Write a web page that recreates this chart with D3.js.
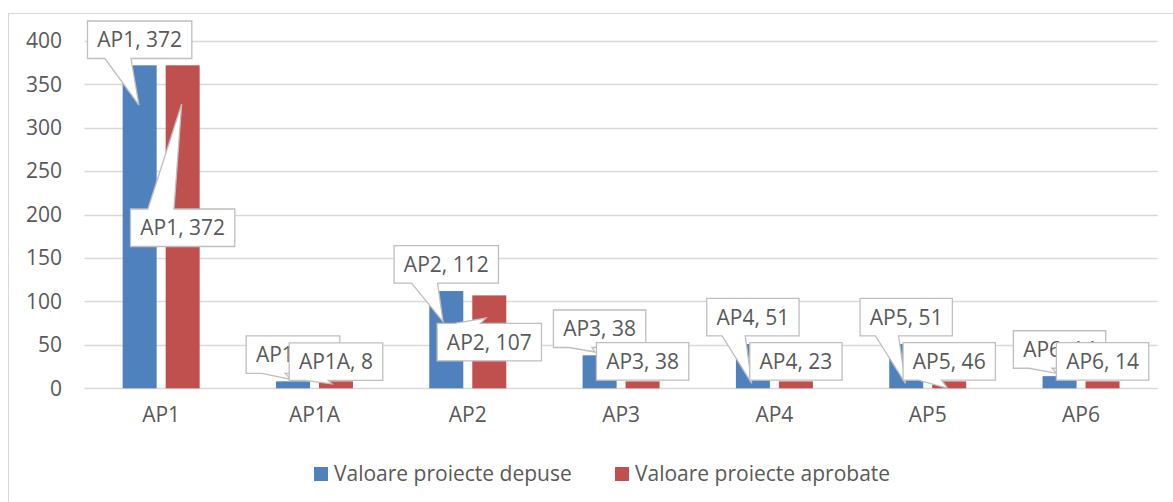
<!DOCTYPE html>
<html>
<head>
<meta charset="utf-8">
<script src="https://cdn.jsdelivr.net/npm/d3@7"></script>
<style>
  body { margin: 0; background: #fff; }
  text { font-family: "Open Sans", sans-serif; fill: #595959; }
</style>
</head>
<body>
<div id="chart"></div>
<script>
// chart data
var categories = ["AP1", "AP1A", "AP2", "AP3", "AP4", "AP5", "AP6"];
var seriesNames = ["Valoare proiecte depuse", "Valoare proiecte aprobate"];
var depuse = [372, 8, 112, 38, 51, 51, 14];
// values written in the red labels
var aprobate = [372, 8, 107, 38, 23, 46, 14];
// heights the red bars are actually drawn at in the picture
var aprobateBars = [372, 8, 107, 8, 8, 8, 8];
var yTicks = [0, 50, 100, 150, 200, 250, 300, 350, 400];

// label layout: [box top from bar top, tip dx from bar centre, tip dy from bar top]
var depuseLabelPos = [[-44.3, -0.7, 39.7], [-45.4, -2, -2], [-45.4, -3.3, 30.6], [-45.3, -4.6, -3.3],
  [-45.7, -1.2, 39.3], [-45.7, -0.8, 39.3], [-45.4, -2.8, -2.8]];
var aprobateLabelPos = [[143.7, -1, 38.7], [-38.4, -4, 2.6], [27.9, -3.3, 22.6], [-38.7, 0, -10],
  [-38.7, 0, -10], [-38.7, -1.5, 6.9], [-38.7, 0, -10]];

var colors = ["#4f81bd", "#c0504d"];

var svgWidth = 1173, svgHeight = 502;
var plot = { left: 84.5, right: 1157.7, top: 41, bottom: 388.3 };
var fontSize = "21px";

var svg = d3.select("#chart").append("svg")
  .attr("width", svgWidth)
  .attr("height", svgHeight);

// outer chart border (runs off the picture on right and bottom)
svg.append("rect")
  .attr("x", 8.5).attr("y", 13.5)
  .attr("width", 1200).attr("height", 520)
  .attr("fill", "none")
  .attr("stroke", "#d9d9d9");

var x = d3.scaleBand().domain(categories).range([plot.left, plot.right]).padding(0);
var bw = x.bandwidth();
var xSub = d3.scaleBand().domain([0, 1])
  .range([bw / 2 - 38.5, bw / 2 + 38.5])
  .paddingInner(9 / 43).paddingOuter(0);
var y = d3.scaleLinear().domain([0, 400]).range([plot.bottom, plot.top]);

// gridlines
svg.append("g").selectAll("line")
  .data(yTicks)
  .enter().append("line")
  .attr("x1", plot.left).attr("x2", plot.right)
  .attr("y1", d => Math.round(y(d)) + 0.5)
  .attr("y2", d => Math.round(y(d)) + 0.5)
  .attr("stroke", "#d9d9d9")
  .attr("stroke-width", 1.3);

// y axis labels
var yAxis = svg.append("g")
  .attr("transform", "translate(62,0)")
  .call(d3.axisLeft(y).tickValues(yTicks).tickSize(0).tickPadding(0));
yAxis.select(".domain").remove();
yAxis.selectAll("text")
  .style("font-size", fontSize)
  .style("font-family", "'Open Sans', sans-serif")
  .attr("fill", "#595959");

// x axis labels
var xAxis = svg.append("g")
  .attr("transform", "translate(0," + plot.bottom + ")")
  .call(d3.axisBottom(x).tickSize(0).tickPadding(19));
xAxis.select(".domain").remove();
xAxis.selectAll("text")
  .style("font-size", fontSize)
  .style("font-family", "'Open Sans', sans-serif")
  .attr("fill", "#595959");

// bars
var barSeries = [depuse, aprobateBars];
barSeries.forEach(function(vals, s) {
  svg.append("g").selectAll("rect")
    .data(vals)
    .enter().append("rect")
    .attr("x", (d, i) => x(categories[i]) + xSub(s))
    .attr("width", xSub.bandwidth())
    .attr("y", d => y(d))
    .attr("height", d => plot.bottom - y(d))
    .attr("fill", colors[s]);
});

// callout shape: box with a wedge pointing at (tx, ty)
function calloutPath(bx, by, w, h, tx, ty) {
  var cx = bx + w / 2, cy = by + h / 2;
  var r = bx + w, b = by + h;
  if (tx >= bx && tx <= r && ty >= by && ty <= b) {
    return "M" + bx + "," + by + "H" + r + "V" + b + "H" + bx + "Z";
  }
  var dx = (tx - cx) / w, dy = (ty - cy) / h;
  if (Math.abs(dy) >= Math.abs(dx)) {
    var a1 = tx < cx ? bx + w / 6 : bx + 7 * w / 12;
    var a2 = tx < cx ? bx + 5 * w / 12 : bx + 5 * w / 6;
    if (dy > 0) {
      return "M" + bx + "," + by + "H" + r + "V" + b + "H" + a2 + "L" + tx + "," + ty +
        "L" + a1 + "," + b + "H" + bx + "Z";
    }
    return "M" + bx + "," + by + "H" + a1 + "L" + tx + "," + ty + "L" + a2 + "," + by +
      "H" + r + "V" + b + "H" + bx + "Z";
  }
  var v1 = ty < cy ? by + h / 6 : by + 7 * h / 12;
  var v2 = ty < cy ? by + 5 * h / 12 : by + 5 * h / 6;
  if (dx > 0) {
    return "M" + bx + "," + by + "H" + r + "V" + v1 + "L" + tx + "," + ty + "L" + r + "," + v2 +
      "V" + b + "H" + bx + "Z";
  }
  return "M" + bx + "," + by + "H" + r + "V" + b + "H" + bx + "V" + v2 + "L" + tx + "," + ty +
    "L" + bx + "," + v1 + "Z";
}

// data labels, centred on their bar
var labelSeries = [
  { vals: depuse, bars: depuse, pos: depuseLabelPos },
  { vals: aprobate, bars: aprobateBars, pos: aprobateLabelPos }
];
var boxH = 37.5;
labelSeries.forEach(function(ser, s) {
  var g = svg.append("g");
  ser.vals.forEach(function(v, i) {
    var bc = x(categories[i]) + xSub(s) + xSub.bandwidth() / 2;
    var bt = y(ser.bars[i]);
    var p = ser.pos[i];
    var lab = g.append("g");
    var path = lab.append("path");
    var t = lab.append("text")
      .style("font-size", fontSize)
      .attr("text-anchor", "middle")
      .text(categories[i] + ", " + v);
    var w = t.node().getComputedTextLength() + 19.5;
    var bx = bc - w / 2, by = bt + p[0];
    path.attr("d", calloutPath(bx, by, w, boxH, bc + p[1], bt + p[2]))
      .attr("fill", "#fff")
      .attr("stroke", "#bfbfbf")
      .attr("stroke-width", 1.3);
    t.attr("x", bc).attr("y", by + boxH / 2 + 7.5);
  });
});

// legend
var legend = svg.append("g");
var legendX = [314, 615];
seriesNames.forEach(function(name, s) {
  legend.append("rect")
    .attr("x", legendX[s]).attr("y", 467)
    .attr("width", 14).attr("height", 14)
    .attr("fill", colors[s]);
  legend.append("text")
    .attr("x", legendX[s] + 20).attr("y", 481)
    .style("font-size", fontSize)
    .text(name);
});
</script>
</body>
</html>
